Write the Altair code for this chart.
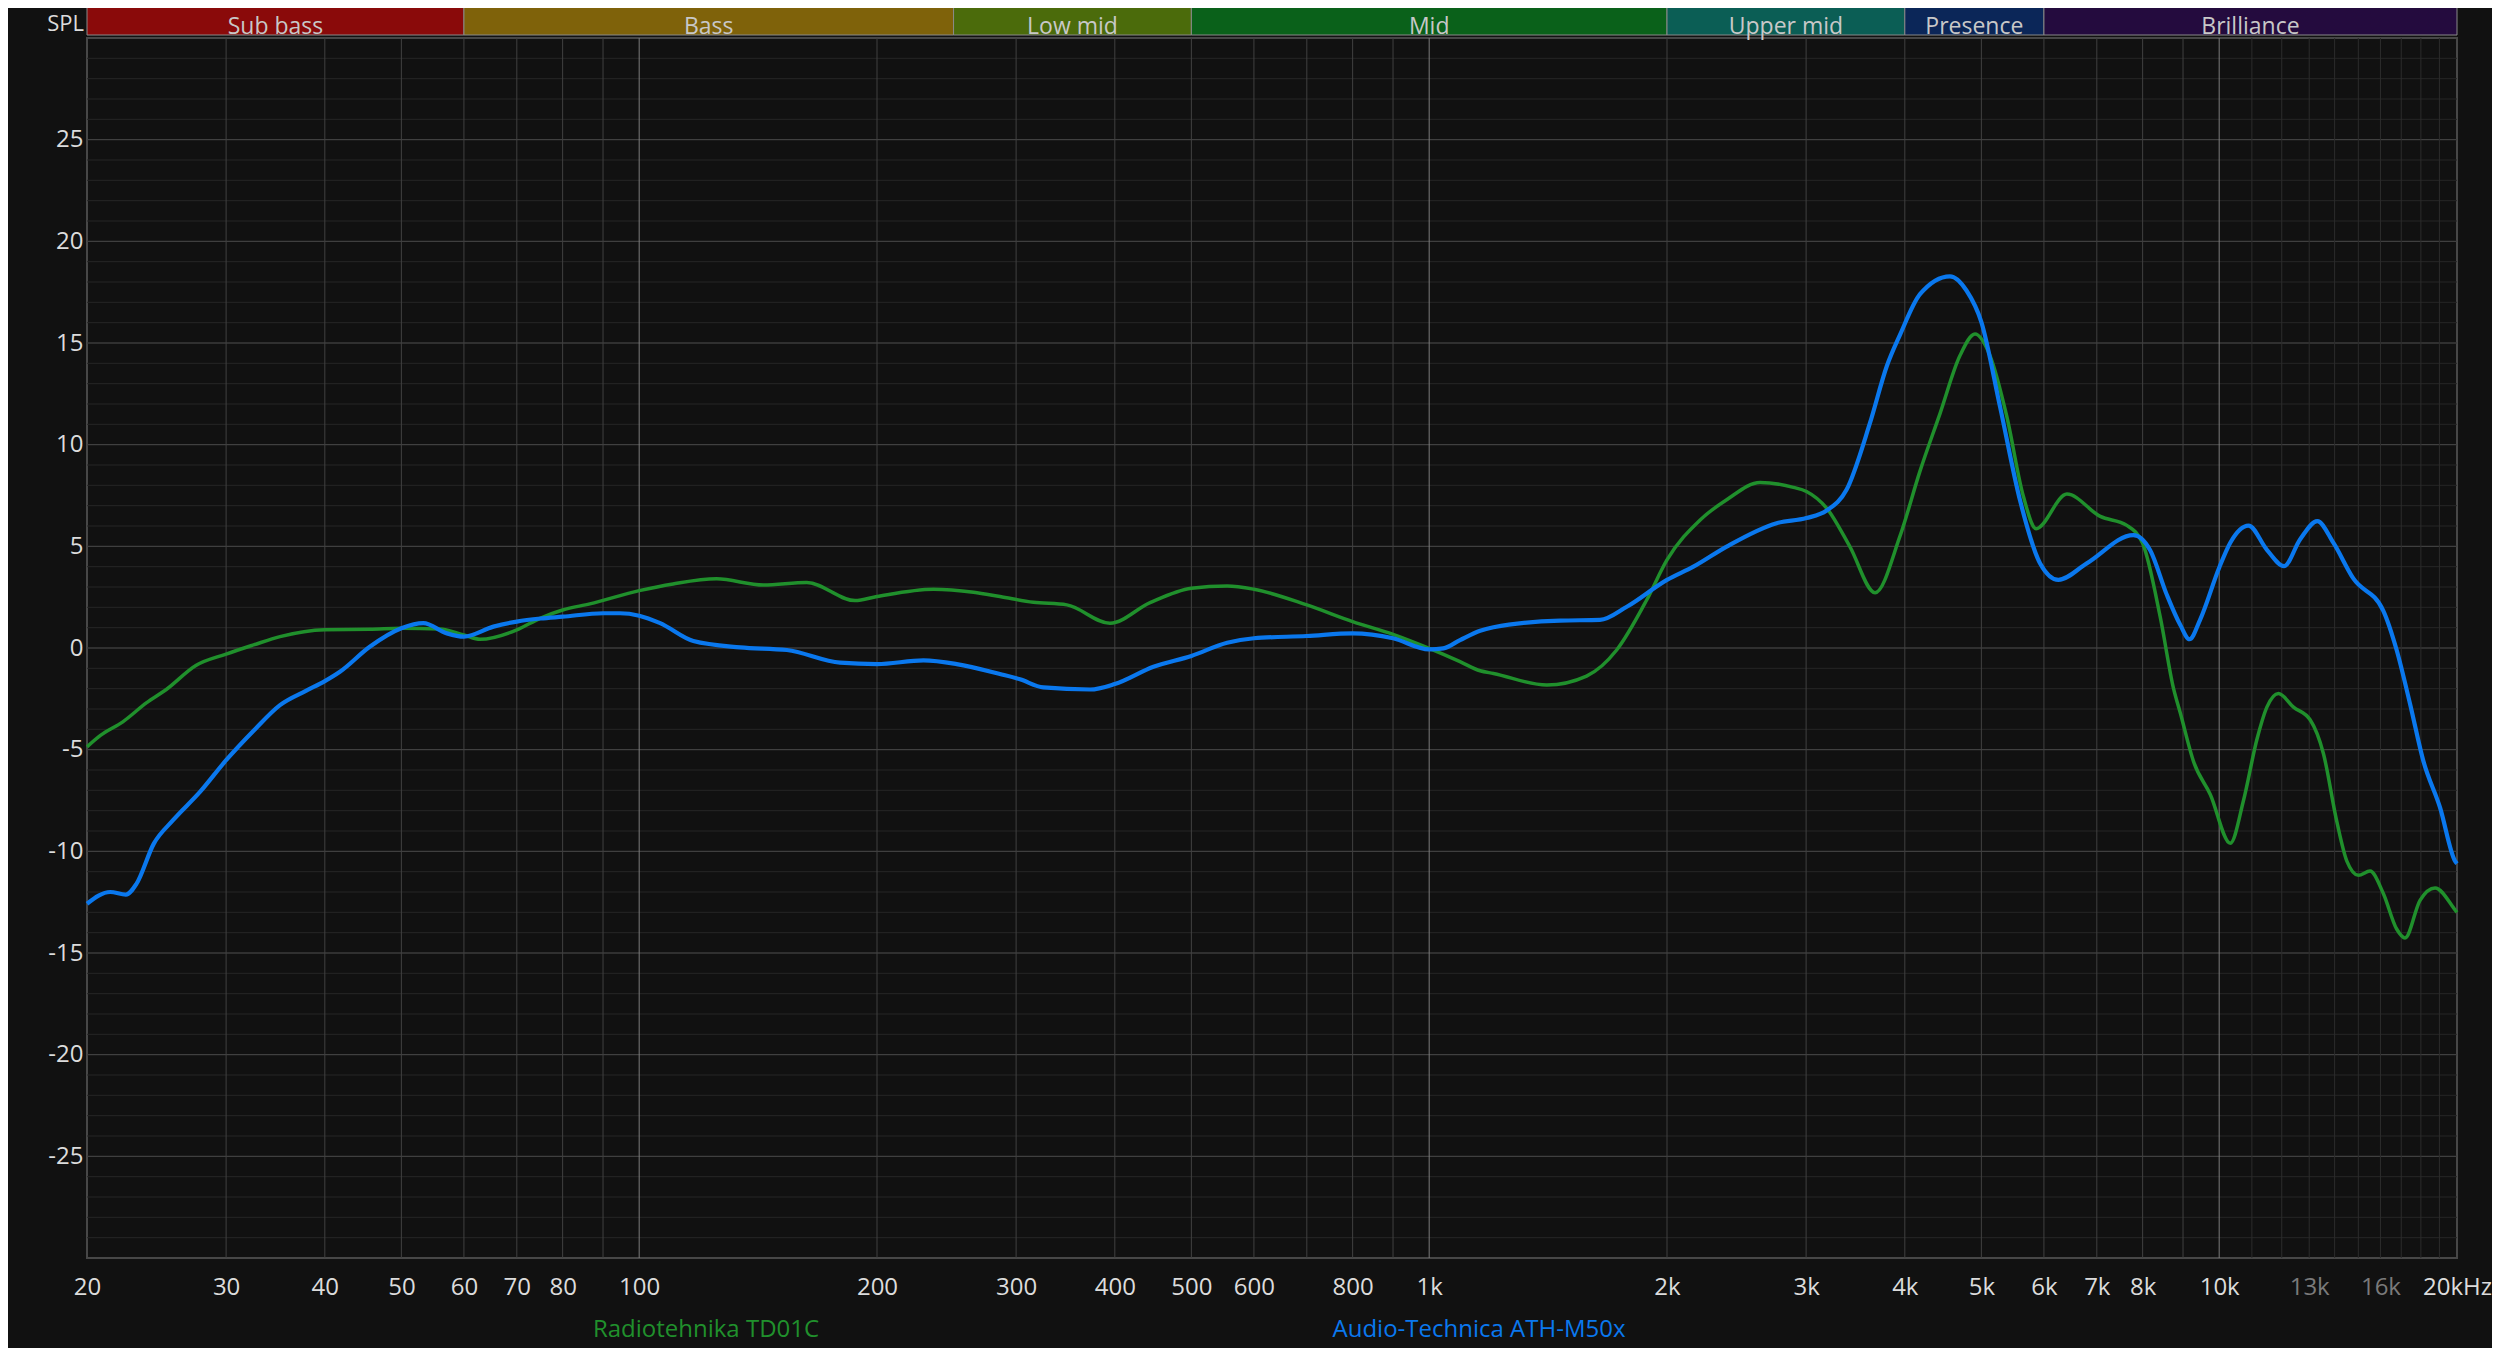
import altair as alt
import pandas as pd

# ---------------- data ----------------
green_freq = [20, 20.8, 22.2, 23.8, 25.2, 27.5, 30, 32.5, 35.1, 40, 45.6, 50, 55.9, 60, 62.9, 70, 74.9, 80, 86.6,
              100, 110.4, 125.3, 143.6, 163, 187.6, 200, 235.8, 265, 286.2, 315.5, 347.8, 394.4, 443.3, 500, 554.9,
              600, 700, 800, 900, 1000, 1094, 1160, 1206, 1409, 1582, 1727, 1885, 2000, 2203, 2380, 2623, 2891, 3003,
              3185, 3408, 3668, 3944, 4181, 4432, 4698, 4908, 5127, 5383, 5651, 5864, 6415, 7071, 7640, 8000, 8422,
              8755, 8929, 9283, 9744, 10329, 10736, 11162, 11492, 11885, 12418, 13035, 13552, 14090, 14508, 15007,
              15521, 16130, 16774, 17187, 17957, 18761, 19941, 20000]
green_db = [-4.86, -4.3, -3.63, -2.69, -2.04, -0.85, -0.3, 0.15, 0.56, 0.9, 0.92, 0.97, 0.94, 0.64, 0.43, 0.89, 1.46,
            1.87, 2.17, 2.82, 3.15, 3.4, 3.1, 3.22, 2.33, 2.53, 2.89, 2.74, 2.53, 2.25, 2.12, 1.22, 2.23, 2.94, 3.05,
            2.89, 2.12, 1.3, 0.67, -0.02, -0.67, -1.12, -1.25, -1.82, -1.38, -0.1, 2.36, 4.33, 6.3, 7.29, 8.14, 7.9,
            7.7, 6.88, 4.99, 2.72, 5.5, 8.7, 11.53, 14.38, 15.44, 14.38, 11.41, 7.46, 5.87, 7.57, 6.47, 6.03, 5.15,
            1.52, -2.0, -3.2, -5.6, -7.2, -9.6, -7.49, -4.5, -2.91, -2.24, -2.91, -3.53, -5.2, -8.54, -10.48, -11.18,
            -10.97, -12.06, -13.82, -14.26, -12.41, -11.8, -12.94, -13.0]

blue_freq = [20, 21.4, 22.4, 23.1, 24.3, 25.7, 27.8, 30, 32.5, 35.1, 37.9, 40, 41.8, 45.6, 50, 53.3, 57.1, 60, 65.4,
             70, 75, 80, 90, 94.6, 100, 106.3, 117.1, 134.2, 153.8, 179.6, 200, 229, 252.3, 286.2, 303.4, 324.8,
             372.2, 400, 447.7, 500, 554.9, 600, 700, 800, 900, 1000, 1042, 1094, 1160, 1206, 1464, 1645, 1779, 2000,
             2160, 2380, 2753, 3003, 3185, 3375, 3614, 3795, 3944, 4181, 4563, 4790, 5000, 5280, 5598, 5934, 6258,
             6798, 7787, 8175, 8584, 8929, 9171, 9461, 10000, 10329, 10892, 11492, 12082, 12663, 13311, 13946, 14783,
             16130, 16774, 17440, 18130, 19033, 19890, 20000]
blue_db = [-12.58, -12.0, -12.13, -11.6, -9.62, -8.47, -7.08, -5.52, -4.07, -2.81, -2.1, -1.63, -1.17, 0.06, 0.97,
           1.22, 0.72, 0.56, 1.05, 1.3, 1.45, 1.54, 1.71, 1.71, 1.59, 1.22, 0.34, 0.03, -0.1, -0.72, -0.79, -0.61,
           -0.79, -1.28, -1.54, -1.94, -2.04, -1.77, -0.92, -0.39, 0.26, 0.48, 0.59, 0.72, 0.48, -0.07, -0.02, 0.39,
           0.85, 1.02, 1.35, 1.38, 2.03, 3.35, 4.0, 4.99, 6.14, 6.39, 6.76, 7.78, 11.07, 13.86, 15.4, 17.4, 18.28,
           17.57, 16.03, 11.86, 7.24, 4.16, 3.35, 4.16, 5.55, 4.82, 2.62, 1.13, 0.43, 1.4, 3.95, 5.18, 6.02, 4.83,
           4.03, 5.35, 6.24, 5.18, 3.42, 1.84, -0.1, -2.74, -5.55, -7.84, -10.48, -10.6]

band_names = ["Sub bass", "Bass", "Low mid", "Mid", "Upper mid", "Presence", "Brilliance"]
band_start = [20, 60, 250, 500, 2000, 4000, 6000]
band_end = [60, 250, 500, 2000, 4000, 6000, 20000]
band_colors = ["#8a0a0a", "#7f620a", "#4b6b0b", "#0a611a", "#0b5e55", "#0b2658", "#240b3e"]

x_tick_values = [20, 30, 40, 50, 60, 70, 80, 100, 200, 300, 400, 500, 600, 800, 1000, 2000, 3000, 4000, 5000,
                 6000, 7000, 8000, 10000, 13000, 16000, 20000]
y_tick_values = [-25, -20, -15, -10, -5, 0, 5, 10, 15, 20, 25]
minor_db = list(range(-29, 30))
major_db = [-25, -20, -15, -10, -5, 0, 5, 10, 15, 20, 25]
grid_freq = [30, 40, 50, 60, 70, 80, 90, 200, 300, 400, 500, 600, 700, 800, 900,
             2000, 3000, 4000, 5000, 6000, 7000, 8000, 9000]
grid_freq_dim = [11000, 12000, 13000, 14000, 15000, 16000, 17000, 18000, 19000]
grid_freq_bright = [100, 1000, 10000]

series_names = ["Radiotehnika TD01C", "Audio-Technica ATH-M50x"]
series_colors = ["#20902c", "#0a78ee"]

FONT = "Open Sans"
W, H = 2370, 1220

xs = alt.Scale(type="log", domain=[20, 20000], nice=False)
ys = alt.Scale(domain=[-30, 30], nice=False, zero=False)

x_axis = alt.Axis(
    values=x_tick_values,
    labelExpr="datum.value >= 20000 ? '20kHz' : (datum.value >= 1000 ? (datum.value / 1000) + 'k' : '' + datum.value)",
    grid=False, ticks=False, domain=False, title=None,
    labelFont=FONT, labelFontSize=24, labelPadding=29, labelBaseline="middle",
    labelColor={"condition": {"test": "datum.value == 13000 || datum.value == 16000", "value": "#7a7a7a"},
                "value": "#dcdcdc"},
    labelOverlap=False, labelFlush=False, labelBound=False,
)
y_axis = alt.Axis(
    values=y_tick_values, labelExpr="'' + datum.value",
    grid=False, ticks=False, domain=False, title=None,
    labelFont=FONT, labelFontSize=24, labelPadding=4, labelColor="#dcdcdc",
    labelOverlap=False, labelFlush=False, labelBound=False,
)


def X(field):
    return alt.X(field, scale=xs, axis=x_axis)


def Y(field):
    return alt.Y(field, scale=ys, axis=y_axis)


green_df = pd.DataFrame({"f": green_freq, "db": green_db})
blue_df = pd.DataFrame({"f": blue_freq, "db": blue_db})
bands_df = pd.DataFrame({"name": band_names, "start": band_start, "end": band_end})

minor_h = alt.Chart(pd.DataFrame({"db": minor_db})).mark_rule(color="#262626", strokeWidth=1).encode(y=Y("db:Q"))
major_h = alt.Chart(pd.DataFrame({"db": major_db})).mark_rule(color="#464646", strokeWidth=1).encode(y=Y("db:Q"))
vdim = alt.Chart(pd.DataFrame({"f": grid_freq_dim})).mark_rule(color="#2c2c2c", strokeWidth=1).encode(x=X("f:Q"))
vnorm = alt.Chart(pd.DataFrame({"f": grid_freq})).mark_rule(color="#414141", strokeWidth=1).encode(x=X("f:Q"))
vbright = alt.Chart(pd.DataFrame({"f": grid_freq_bright})).mark_rule(color="#7c7c7c", strokeWidth=1).encode(
    x=X("f:Q"))

green_line = alt.Chart(green_df).mark_line(color=series_colors[0], strokeWidth=3.5, interpolate="monotone").encode(
    x=X("f:Q"), y=Y("db:Q"))
blue_line = alt.Chart(blue_df).mark_line(color=series_colors[1], strokeWidth=4.2, interpolate="monotone").encode(
    x=X("f:Q"), y=Y("db:Q"))

band_rects = alt.Chart(bands_df).mark_rect(stroke="#8a8a8a", strokeWidth=1).encode(
    x=X("start:Q"), x2="end:Q",
    y=alt.value(-32), y2=alt.value(-3),
    color=alt.Color("name:N", scale=alt.Scale(domain=band_names, range=band_colors), legend=None))
band_text = alt.Chart(bands_df).transform_calculate(
    mid="sqrt(datum.start * datum.end)").mark_text(
    font=FONT, fontSize=23, color="#c8c8c8", baseline="middle", align="center").encode(
    x=X("mid:Q"), y=alt.value(-11), text="name:N")

spl = alt.Chart(pd.DataFrame({"t": ["SPL"]})).mark_text(
    font=FONT, fontSize=22, color="#dcdcdc", align="right", baseline="middle").encode(
    x=alt.value(-3), y=alt.value(-14), text="t:N")

legend_df = pd.DataFrame({"name": series_names, "px": [619, 1392]})
legend = alt.Chart(legend_df).mark_text(font=FONT, fontSize=24, baseline="middle", align="center").encode(
    x=alt.X("px:Q", scale=None), y=alt.value(1292), text="name:N",
    color=alt.Color("name:N", scale=alt.Scale(domain=series_names, range=series_colors), legend=None))

chart = alt.layer(
    minor_h, major_h, vdim, vnorm, vbright, green_line, blue_line, band_rects, band_text, spl, legend
).resolve_scale(color="independent").properties(
    width=W, height=H,
    autosize=alt.AutoSizeParams(type="none"),
    padding={"left": 79, "top": 30, "right": 35, "bottom": 90},
).configure(background="#111111").configure_view(stroke="#474747", strokeWidth=2, fill="#111111")

chart.save("out.html", embed_options={"renderer": "svg", "actions": False})
